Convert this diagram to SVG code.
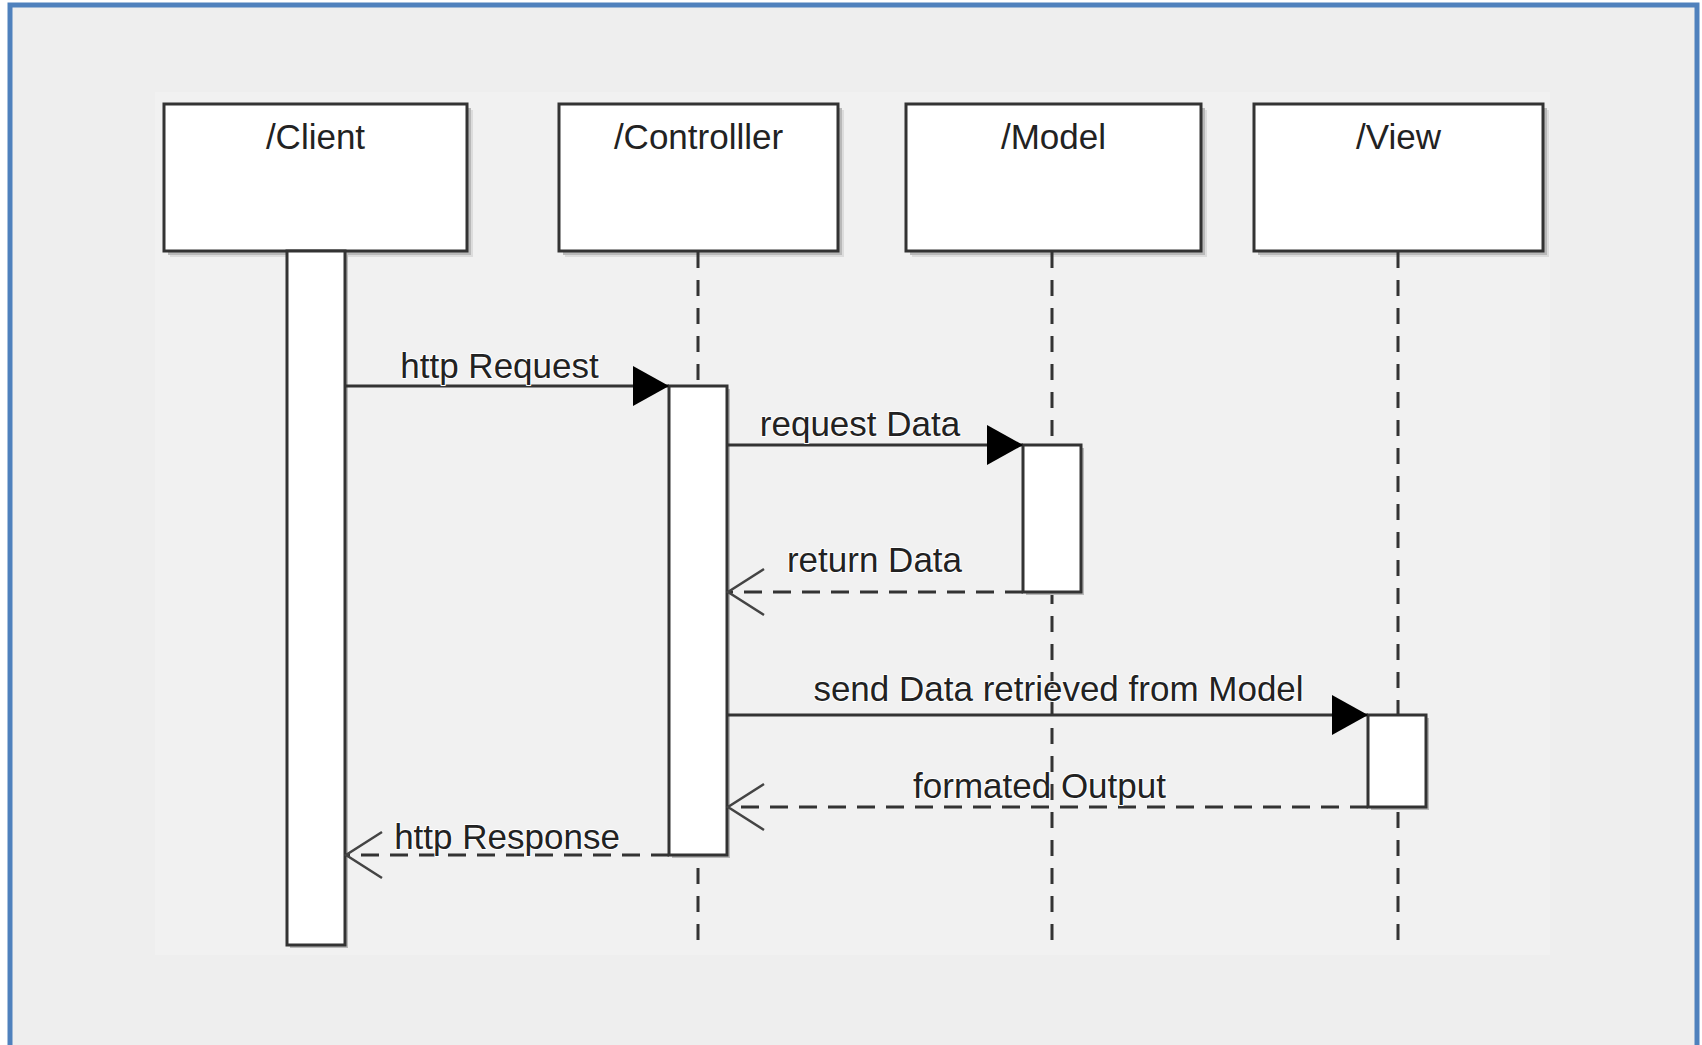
<svg xmlns="http://www.w3.org/2000/svg" width="1702" height="1045" viewBox="0 0 1702 1045">
<style>
.frame{fill:none;stroke:#4f81bd;stroke-width:5}
.box{fill:#fff;stroke:#333;stroke-width:3}
.bar{fill:#fff;stroke:#333;stroke-width:3}
.shadow{fill:#b9b9b9}
.shadow2{fill:#dcdcdc}
.lbl{font-family:"Liberation Sans",Arial,sans-serif;font-size:35px;fill:#222;text-anchor:middle}
.mlbl{font-family:"Liberation Sans",Arial,sans-serif;font-size:35px;fill:#222;text-anchor:middle;stroke:#fff;stroke-width:2;paint-order:stroke;stroke-linejoin:round}
.life{stroke:#333;stroke-width:3;stroke-dasharray:16 12;fill:none}
.msg{stroke:#333;stroke-width:3;fill:none}
.ret{stroke:#333;stroke-width:3;fill:none;stroke-dasharray:18 11}
</style>
<defs>
<marker id="filled" markerUnits="userSpaceOnUse" markerWidth="40" markerHeight="44" refX="36" refY="20" orient="auto" overflow="visible">
<path d="M0,0 L36,20 L0,40 Z" fill="#000"/>
</marker>
<marker id="open" markerUnits="userSpaceOnUse" markerWidth="40" markerHeight="50" refX="36" refY="23" orient="auto" overflow="visible">
<path d="M0,0 L36,23 L0,46" fill="none" stroke="#444" stroke-width="2.5"/>
</marker>
</defs>
<rect x="0" y="0" width="1702" height="1045" fill="#fff"/>
<rect x="10" y="5" width="1687" height="1040" fill="#eeeeee"/>
<rect x="155" y="92" width="1395" height="863" fill="#f1f1f1"/>
<path class="frame" d="M10,1045 V5 H1697 V1045"/>

<g id="client">
<rect class="shadow2" x="170" y="110" width="303" height="147"/>
<rect class="shadow" x="168" y="108" width="303" height="147"/>
<rect class="box" x="164" y="104" width="303" height="147"/>
<text class="lbl" x="315.5" y="149">/Client</text>
<rect class="shadow" x="290" y="254" width="58" height="694"/>
<rect class="bar" x="287" y="251" width="58" height="694"/>
</g>

<g id="controller">
<rect class="shadow2" x="565" y="110" width="279" height="147"/>
<rect class="shadow" x="563" y="108" width="279" height="147"/>
<rect class="box" x="559" y="104" width="279" height="147"/>
<text class="lbl" x="698.5" y="149">/Controlller</text>
<line class="life" x1="698" y1="252" x2="698" y2="940"/>
<rect class="shadow" x="672" y="389" width="58" height="469"/>
<rect class="bar" x="669" y="386" width="58" height="469"/>
</g>

<g id="model">
<rect class="shadow2" x="912" y="110" width="295" height="147"/>
<rect class="shadow" x="910" y="108" width="295" height="147"/>
<rect class="box" x="906" y="104" width="295" height="147"/>
<text class="lbl" x="1053.5" y="149">/Model</text>
<line class="life" x1="1052" y1="252" x2="1052" y2="940"/>
<rect class="shadow" x="1026" y="448" width="58" height="147"/>
<rect class="bar" x="1023" y="445" width="58" height="147"/>
</g>

<g id="view">
<rect class="shadow2" x="1260" y="110" width="289" height="147"/>
<rect class="shadow" x="1258" y="108" width="289" height="147"/>
<rect class="box" x="1254" y="104" width="289" height="147"/>
<text class="lbl" x="1398.5" y="149">/View</text>
<line class="life" x1="1398" y1="252" x2="1398" y2="940"/>
<rect class="shadow" x="1371" y="718" width="58" height="92"/>
<rect class="bar" x="1368" y="715" width="58" height="92"/>
</g>

<g id="connectors">
<line class="msg" x1="345" y1="386" x2="669" y2="386" marker-end="url(#filled)"/>
<text class="mlbl" x="499.5" y="378">http Request</text>

<line class="msg" x1="727" y1="445" x2="1023" y2="445" marker-end="url(#filled)"/>
<text class="mlbl" x="860" y="436">request Data</text>

<line class="ret" x1="1023" y1="592" x2="728" y2="592" marker-end="url(#open)"/>
<text class="mlbl" x="874.5" y="572">return Data</text>

<line class="msg" x1="727" y1="715" x2="1368" y2="715" marker-end="url(#filled)"/>
<text class="mlbl" x="1058.5" y="701">send Data retrieved from Model</text>

<line class="ret" x1="1368" y1="807" x2="728" y2="807" marker-end="url(#open)"/>
<text class="mlbl" x="1039.5" y="798">formated Output</text>

<line class="ret" x1="669" y1="855" x2="346" y2="855" marker-end="url(#open)"/>
<text class="mlbl" x="507" y="849">http Response</text>
</g>
</svg>
